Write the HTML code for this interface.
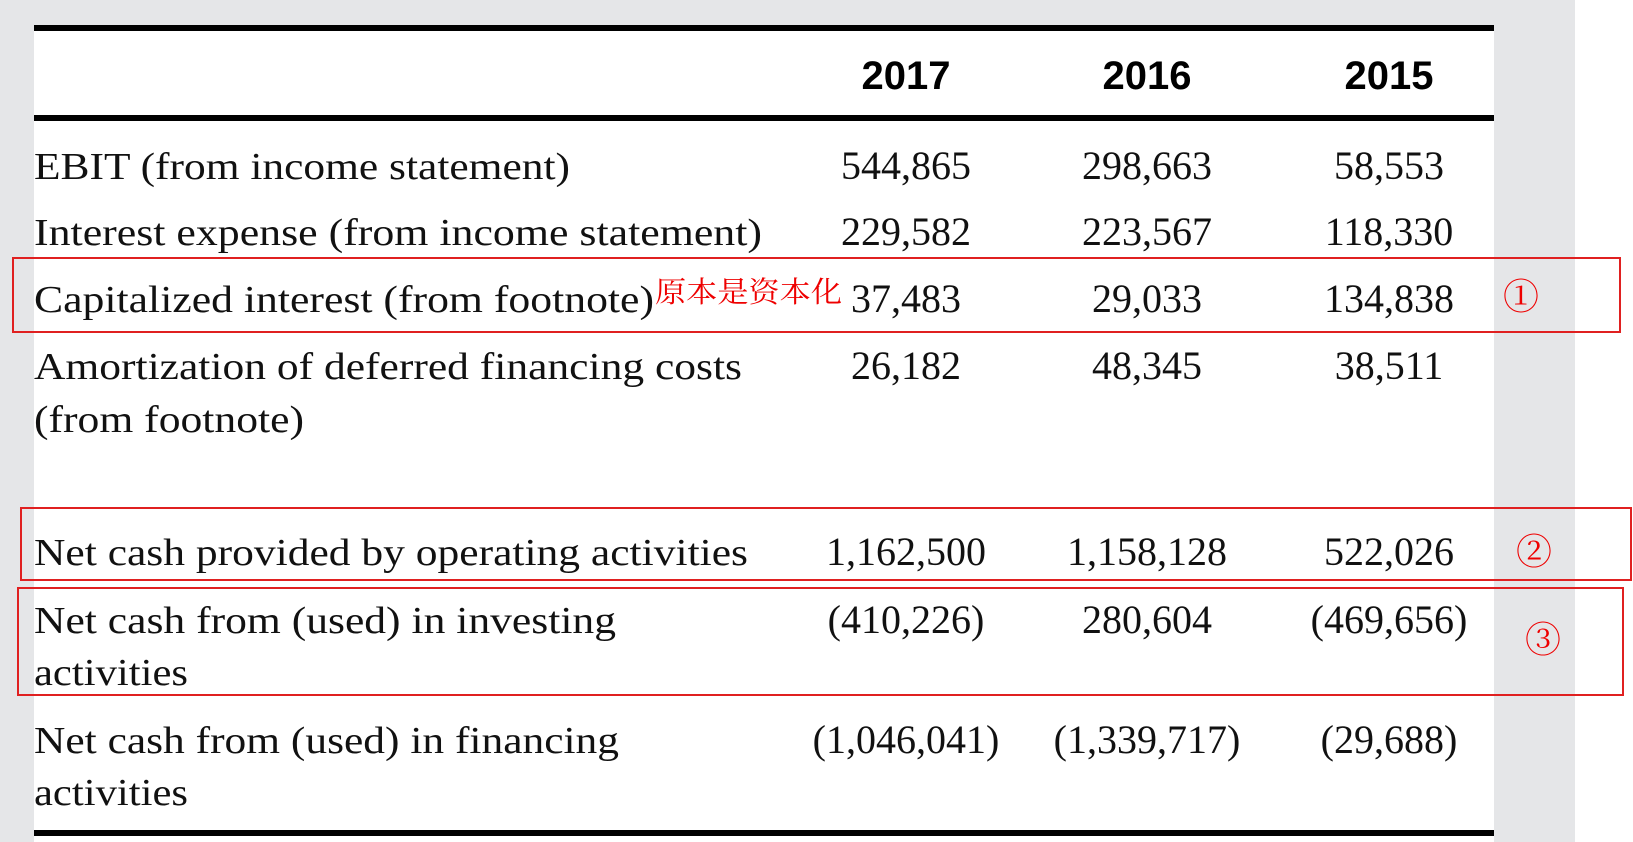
<!DOCTYPE html>
<html><head><meta charset="utf-8"><style>
html,body{margin:0;padding:0;background:#fff;}
svg{display:block;}
.l{font-family:"Liberation Serif",serif;font-size:38px;fill:#111;}
.n{font-family:"Liberation Serif",serif;font-size:40px;fill:#111;text-anchor:middle;}
.y{font-family:"Liberation Sans",sans-serif;font-weight:bold;font-size:40px;fill:#000;text-anchor:middle;}
.r{font-family:"Liberation Serif","Noto Serif CJK SC",serif;fill:#e00;}
</style></head><body>
<svg width="1633" height="842" viewBox="0 0 1633 842">
<rect x="0" y="0" width="1575" height="842" fill="#e5e6e8"/>
<rect x="1575" y="0" width="58" height="842" fill="#fff"/>
<rect x="34" y="25" width="1460" height="817" fill="#fff"/>
<rect x="34" y="25" width="1460" height="6" fill="#000"/>
<rect x="34" y="115" width="1460" height="6" fill="#000"/>
<rect x="34" y="830" width="1460" height="6" fill="#000"/>
<text class="y" x="906" y="89">2017</text>
<text class="y" x="1147" y="89">2016</text>
<text class="y" x="1389" y="89">2015</text>

<text class="l" x="34" y="179" textLength="536" lengthAdjust="spacingAndGlyphs">EBIT (from income statement)</text>
<text class="n" x="906" y="179">544,865</text><text class="n" x="1147" y="179">298,663</text><text class="n" x="1389" y="179">58,553</text>

<text class="l" x="34" y="245" textLength="728" lengthAdjust="spacingAndGlyphs">Interest expense (from income statement)</text>
<text class="n" x="906" y="245">229,582</text><text class="n" x="1147" y="245">223,567</text><text class="n" x="1389" y="245">118,330</text>

<text class="l" x="34" y="312" textLength="620" lengthAdjust="spacingAndGlyphs">Capitalized interest (from footnote)</text>
<text class="r" x="655" y="302" font-size="29" textLength="187" lengthAdjust="spacingAndGlyphs">原本是资本化</text>
<text class="n" x="906" y="312">37,483</text><text class="n" x="1147" y="312">29,033</text><text class="n" x="1389" y="312">134,838</text>

<text class="l" x="34" y="379" textLength="708" lengthAdjust="spacingAndGlyphs">Amortization of deferred financing costs</text>
<text class="l" x="34" y="432" textLength="270" lengthAdjust="spacingAndGlyphs">(from footnote)</text>
<text class="n" x="906" y="379">26,182</text><text class="n" x="1147" y="379">48,345</text><text class="n" x="1389" y="379">38,511</text>

<text class="l" x="34" y="565" textLength="714" lengthAdjust="spacingAndGlyphs">Net cash provided by operating activities</text>
<text class="n" x="906" y="565">1,162,500</text><text class="n" x="1147" y="565">1,158,128</text><text class="n" x="1389" y="565">522,026</text>

<text class="l" x="34" y="633" textLength="582" lengthAdjust="spacingAndGlyphs">Net cash from (used) in investing</text>
<text class="l" x="34" y="685" textLength="154" lengthAdjust="spacingAndGlyphs">activities</text>
<text class="n" x="906" y="633">(410,226)</text><text class="n" x="1147" y="633">280,604</text><text class="n" x="1389" y="633">(469,656)</text>

<text class="l" x="34" y="753" textLength="585" lengthAdjust="spacingAndGlyphs">Net cash from (used) in financing</text>
<text class="l" x="34" y="805" textLength="154" lengthAdjust="spacingAndGlyphs">activities</text>
<text class="n" x="906" y="753">(1,046,041)</text><text class="n" x="1147" y="753">(1,339,717)</text><text class="n" x="1389" y="753">(29,688)</text>

<rect x="13" y="258" width="1607" height="74" fill="none" stroke="#e02020" stroke-width="2"/>
<rect x="21" y="508" width="1610" height="72" fill="none" stroke="#e02020" stroke-width="2"/>
<rect x="18" y="588" width="1605" height="107" fill="none" stroke="#e02020" stroke-width="2"/>
<text class="r" x="1521" y="309" font-size="36" text-anchor="middle">①</text>
<text class="r" x="1534" y="564" font-size="36" text-anchor="middle">②</text>
<text class="r" x="1543" y="652" font-size="36" text-anchor="middle">③</text>
</svg>
</body></html>
